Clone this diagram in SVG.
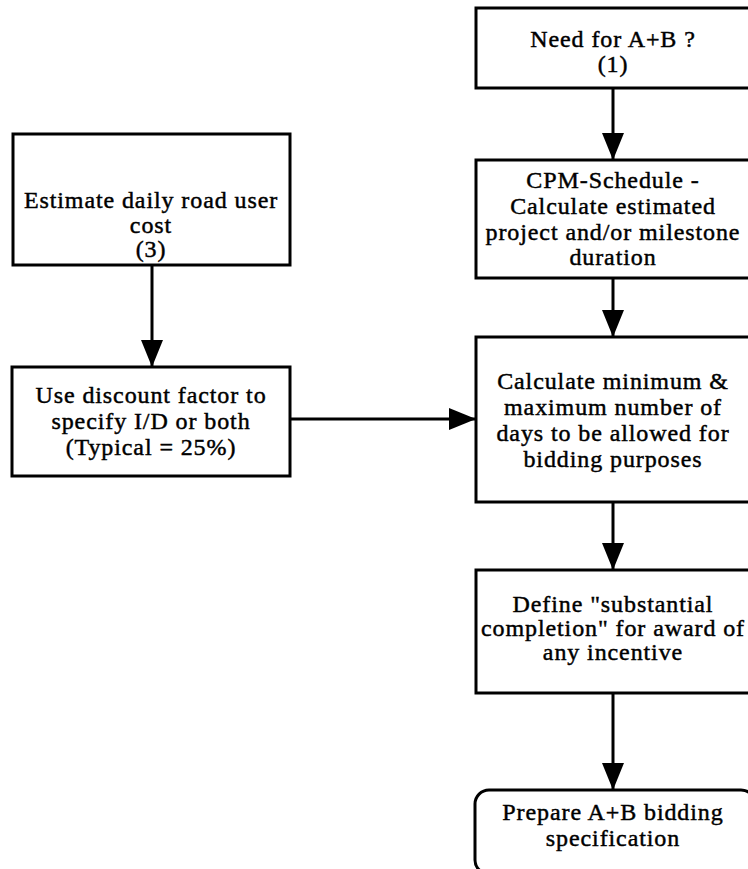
<svg xmlns="http://www.w3.org/2000/svg" width="748" height="869" viewBox="0 0 748 869">
<style>
.box{fill:#fff;stroke:#000;stroke-width:3}
.t{font-family:"Liberation Serif","Times New Roman",serif;font-size:24px;letter-spacing:0.9px;fill:#000;stroke:#000;stroke-width:0.45;text-anchor:middle}
.c{stroke:#000;stroke-width:3;fill:none;marker-end:url(#ah)}
</style>
<defs>
<marker id="ah" markerUnits="userSpaceOnUse" markerWidth="28" markerHeight="24" refX="27" refY="11" orient="auto">
<path d="M0,0 L27,11 L0,22 Z" fill="#000"/>
</marker>
</defs>
<rect width="748" height="869" fill="#fff"/>
<g id="connectors">
<line class="c" x1="613" y1="88" x2="613" y2="160"/>
<line class="c" x1="613" y1="278" x2="613" y2="337"/>
<line class="c" x1="613" y1="502" x2="613" y2="570"/>
<line class="c" x1="613" y1="693" x2="613" y2="790"/>
<line class="c" x1="152" y1="265" x2="152" y2="367"/>
<line class="c" x1="290" y1="419" x2="476" y2="419"/>
</g>
<g id="n1">
<rect class="box" x="476" y="8" width="276" height="80"/>
<text class="t" x="613" y="47">Need for A+B ?</text>
<text class="t" x="613" y="72">(1)</text>
</g>
<g id="n2">
<rect class="box" x="476" y="160" width="276" height="118"/>
<text class="t" x="613" y="188">CPM-Schedule -</text>
<text class="t" x="613" y="214">Calculate estimated</text>
<text class="t" x="613" y="240">project and/or milestone</text>
<text class="t" x="613" y="265">duration</text>
</g>
<g id="n3">
<rect class="box" x="476" y="337" width="276" height="165"/>
<text class="t" x="613" y="389">Calculate minimum &amp;</text>
<text class="t" x="613" y="415">maximum number of</text>
<text class="t" x="613" y="441">days to be allowed for</text>
<text class="t" x="613" y="467">bidding purposes</text>
</g>
<g id="n4">
<rect class="box" x="476" y="570" width="276" height="123"/>
<text class="t" x="613" y="612">Define "substantial</text>
<text class="t" x="613" y="636">completion" for award of</text>
<text class="t" x="613" y="660">any incentive</text>
</g>
<g id="n5">
<rect class="box" x="475" y="790" width="280" height="84" rx="14" ry="14"/>
<text class="t" x="613" y="820">Prepare A+B bidding</text>
<text class="t" x="613" y="846">specification</text>
</g>
<g id="n6">
<rect class="box" x="13" y="134" width="277" height="131"/>
<text class="t" x="151" y="208">Estimate daily road user</text>
<text class="t" x="151" y="233">cost</text>
<text class="t" x="151" y="257">(3)</text>
</g>
<g id="n7">
<rect class="box" x="12" y="367" width="278" height="109"/>
<text class="t" x="151" y="403">Use discount factor to</text>
<text class="t" x="151" y="429">specify I/D or both</text>
<text class="t" x="151" y="455">(Typical = 25%)</text>
</g>
</svg>
